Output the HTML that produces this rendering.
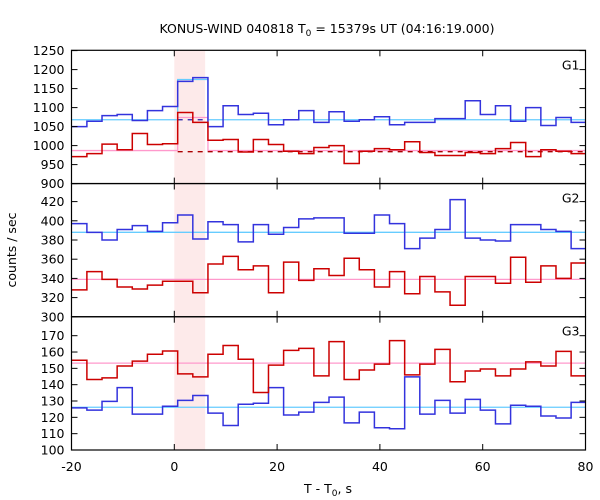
<!DOCTYPE html>
<html><head><meta charset="utf-8"><style>
html,body{margin:0;padding:0;background:#fff;}
svg{display:block;font-family:"DejaVu Sans","Liberation Sans",sans-serif;}
</style></head><body>
<svg id="chart" width="600" height="500" viewBox="0 0 600 500"></svg>
<script>
// ---- data ----
const binStart = -19.95;
const binWidth = 2.944;
const g1Blue = [1050,1064,1079,1082,1066,1092,1103,1169,1179,1050,1105,1082,1085,1055,1068,1092,1061,1089,1064,1068,1076,1055,1061,1061,1071,1071,1118,1082,1105,1064,1100,1053,1074,1061];
const g1Red = [971,979,1004,989,1032,1003,1005,1087,1061,1014,1016,983,1016,1003,985,979,995,1000,953,985,992,989,1010,982,974,974,982,979,992,1008,971,989,985,979];
const g2Blue = [397,388,380,391,395,389,398,406,381,399,396,378,396,386,393,402,403,403,387,387,406,397,371,382,391,422,382,380,379,396,396,391,389,371];
const g2Red = [328,347,339,331,329,333,337,337,325,355,363,349,353,325,357,338,350,343,361,349,331,347,324,342,326,312,342,342,335,362,336,353,340,356];
const g3Red = [155,143.2,144.2,151.4,154.4,158.6,160.6,146.6,144.8,158.6,164,155.6,135.2,152,161,162.2,145.4,166.4,143.2,149,152.6,167,146,152.6,161.6,141.8,148.4,149.6,145.4,149.6,154,151.4,160.4,145.4];
const g3Blue = [125.8,124.4,129.8,138.2,122,122,126.8,130.4,133.4,122.6,115,128,128.6,138.2,121.4,123.2,129.2,132.4,116.6,123.2,113.6,113,144.8,122,130.4,122.6,131,124.4,116,127.4,126.8,120.8,119.6,129.2];
const bgBlue = [1068,388,126.2];
const bgRed = [987,339,153.2];
const burstBlueG1 = 1174;
const burstRedG1 = 1074;
const burstStart = 0, burstEnd = 6;
const xTicks = [-20,0,20,40,60,80];
const panelNames = ["G1","G2","G3"];
const yRanges = [[900,1250],[300,~~(300+120*133.3/115.3)],[100,181.7]];
const yTicks = [[900,950,1000,1050,1100,1150,1200,1250],[300,320,340,360,380,400,420],[100,110,120,130,140,150,160,170]];

// ---- layout ----
const L=71.5,R=585.5;
const tops=[50.3,183.5,316.7], H=133.3;
yRanges[1]=[300,300+20*H/19.2];
yRanges[2]=[100,100+10*H/16.33];
yRanges[0]=[900,900+50*H/19];
const NS="http://www.w3.org/2000/svg";
const svg=document.getElementById('chart');
function el(tag,attrs,parent){const e=document.createElementNS(NS,tag);for(const k in attrs)e.setAttribute(k,attrs[k]);(parent||svg).appendChild(e);return e;}
const xs=v=>L+(v+20)/100*(R-L);
function ys(p,v){const [a,b]=yRanges[p];return tops[p]+H-(v-a)/(b-a)*H;}

// burst shading
const sh=el('rect',{x:xs(burstStart),y:tops[0],width:xs(burstEnd)-xs(burstStart),height:3*H,fill:'#fdeaea'});



function stepPath(p,vals){
  let d='';
  vals.forEach((v,i)=>{
    let x0=Math.max(binStart+i*binWidth,-20), x1=Math.min(binStart+(i+1)*binWidth,80);
    const y=ys(p,v).toFixed(2);
    d+=(i===0?'M':'L')+xs(x0).toFixed(2)+','+y+' L'+xs(x1).toFixed(2)+','+y+' ';
  });
  return d;
}
function bgPath(p,base,burst){
  const b0=binStart+7*binWidth,b1=binStart+9*binWidth;
  if(burst===undefined) return `M${L},${ys(p,base)} L${R},${ys(p,base)}`;
  return `M${L},${ys(p,base)} L${xs(b0)},${ys(p,base)} L${xs(b0)},${ys(p,burst)} L${xs(b1)},${ys(p,burst)} L${xs(b1)},${ys(p,base)} L${R},${ys(p,base)}`;
}
const series=[[g1Blue,g1Red],[g2Blue,g2Red],[g3Blue,g3Red]];
for(let p=0;p<3;p++){
  const g=el('g',{});
  
  
  const lb=el('path',{d:bgPath(p,bgBlue[p],p===0?burstBlueG1:undefined),fill:'none',stroke:'#66ccff','stroke-width':1.3},g);
  
  
  const lr=el('path',{d:bgPath(p,bgRed[p],p===0?burstRedG1:undefined),fill:'none',stroke:'#ff99cc','stroke-width':1.3},g);
  
  
  if(p===0){
    const b0=binStart+7*binWidth,b1=binStart+9*binWidth;
    const dr=el('path',{d:`M${xs(b0)},${ys(0,984)} L${R},${ys(0,984)}`,stroke:'#aa0000','stroke-width':1.3,'stroke-dasharray':'5,5',fill:'none'},g);
    
    
    const db=el('path',{d:`M${xs(b0)},${ys(0,1068)} L${xs(b1)},${ys(0,1068)}`,stroke:'#2222aa','stroke-width':1.3,'stroke-dasharray':'5,5',fill:'none'},g);
    
    
  }
  const sb=el('path',{d:stepPath(p,series[p][0]),fill:'none',stroke:'#3333dd','stroke-width':1.5},g);
  
  
  const sr=el('path',{d:stepPath(p,series[p][1]),fill:'none',stroke:'#cc0000','stroke-width':1.5},g);
  
  
  // frame
  const fr=el('rect',{x:L,y:tops[p],width:R-L,height:H,fill:'none',stroke:'#000','stroke-width':1.2},g);
  
  
  // y ticks
  yTicks[p].forEach(t=>{
    const y=ys(p,t);
    el('line',{x1:L,x2:L+6,y1:y,y2:y,stroke:'#000','stroke-width':1},g);
    el('line',{x1:R,x2:R-6,y1:y,y2:y,stroke:'#000','stroke-width':1},g);
    const tx=el('text',{x:L-7,y:y+4.5,'text-anchor':'end','font-size':12.5,fill:'#000'},g);
    tx.textContent=t;
    
    
  });
  xTicks.forEach(t=>{
    const x=xs(t);
    el('line',{x1:x,x2:x,y1:tops[p],y2:tops[p]+6,stroke:'#000','stroke-width':1},g);
    el('line',{x1:x,x2:x,y1:tops[p]+H,y2:tops[p]+H-6,stroke:'#000','stroke-width':1},g);
  });
  const pn=el('text',{x:R-6,y:tops[p]+19,'text-anchor':'end','font-size':12.5,fill:'#000'},g);
  pn.textContent=panelNames[p];
  
  
}
xTicks.forEach(t=>{
  const tx=el('text',{x:xs(t),y:471,'text-anchor':'middle','font-size':12.5,fill:'#000'});
  tx.textContent=t;
  
  
});
</script>
<svg width="0" height="0"></svg>
<div style="position:absolute;left:0;top:0;width:600px;height:500px;pointer-events:none;">
<svg width="600" height="500" style="font-family:'DejaVu Sans','Liberation Sans',sans-serif;">
<text x="327" y="33" text-anchor="middle" font-size="12.5">KONUS-WIND 040818 T<tspan font-size="9" dy="3">0</tspan><tspan dy="-3"> = 15379s UT (04:16:19.000)</tspan></text>
<text x="328" y="493" text-anchor="middle" font-size="12.5">T - T<tspan font-size="9" dy="3">0</tspan><tspan dy="-3">, s</tspan></text>
<text transform="translate(16,250) rotate(-90)" text-anchor="middle" font-size="12.5">counts / sec</text>
</svg>
</div>
</body></html>
